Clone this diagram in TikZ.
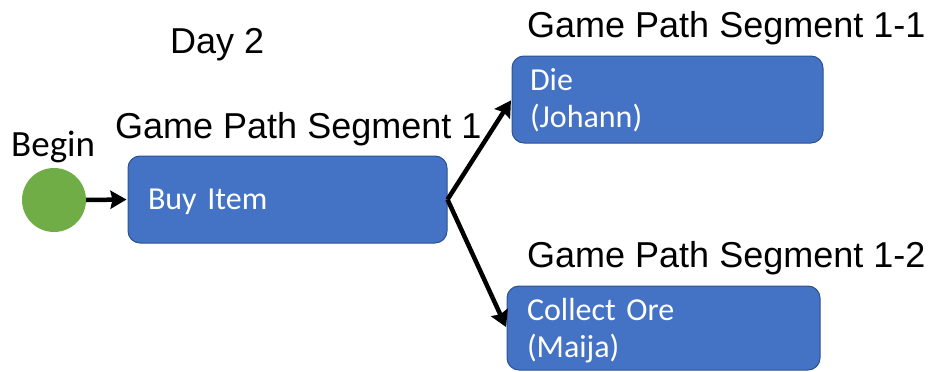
\documentclass[tikz,border=0pt]{standalone}
\usepackage{fontspec}
\setmainfont{Liberation Sans}
\newfontfamily\boxfont{Carlito}
\usetikzlibrary{arrows.meta}

\definecolor{stepblue}{HTML}{4472C4}
\definecolor{stepedge}{HTML}{2F528F}
\definecolor{startgreen}{HTML}{70AD47}

\tikzset{
  stepbox/.style={draw=stepedge, line width=1pt, fill=stepblue, rounded corners=12pt,
    text=white, font=\boxfont\fontsize{32}{37}\selectfont, align=left,
    inner xsep=0pt, inner ysep=0pt},
  heading/.style={anchor=base west, inner sep=0pt, font=\fontsize{36}{40}\selectfont},
  flow/.style={line width=4.5pt, -{Stealth[length=16pt,width=18pt,inset=2pt]}, shorten >=1pt},
}

\begin{document}
\begin{tikzpicture}[x=1pt,y=-1pt]
  \useasboundingbox (0,0) rectangle (935,372);

  % start marker
  \node[circle, fill=startgreen, minimum size=64pt, inner sep=0pt] (start) at (54,200) {};
  \node[anchor=base west, inner sep=0pt, font=\boxfont\fontsize{37}{40}\selectfont] (beginlbl) at (11,156) {Begin};

  % path segments (text height/depth place the first baseline inside each box)
  \node[stepbox, text height=25pt, text depth=6pt, minimum width=319pt, minimum height=87pt, text width=279pt] (buy) at (287.5,199.5) {Buy Item};
  \node[stepbox, text height=22pt, text depth=41pt, minimum width=311pt, minimum height=87pt, text width=275pt] (die) at (667.5,99.5) {Die\\(Johann)};
  \node[stepbox, text height=22pt, text depth=37pt, minimum width=313pt, minimum height=84pt, text width=273pt] (ore) at (663.5,328) {Collect Ore\\(Maija)};

  % headings
  \node[heading] (day) at (170,53) {Day 2};
  \node[heading] (seg1) at (115,138.5) {Game Path Segment 1};
  \node[heading] (seg11) at (527,37) {Game Path Segment 1-1};
  \node[heading] (seg12) at (527,267) {Game Path Segment 1-2};

  % connectors
  \draw[flow] (start.east) -- (buy.west);
  \draw[flow] (buy.east) -- (die.west);
  \draw[flow] (buy.east) -- (ore.west);
\end{tikzpicture}
\end{document}
